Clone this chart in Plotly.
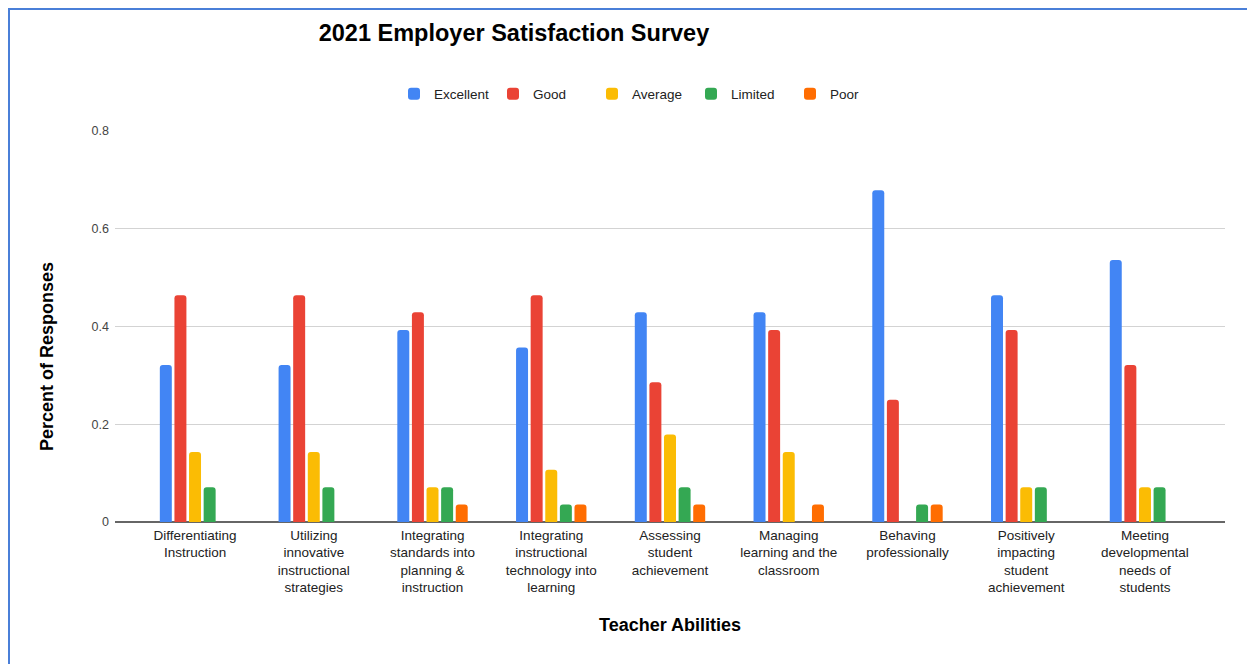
import plotly.graph_objects as go

categories = [
    "Differentiating<br>Instruction",
    "Utilizing<br>innovative<br>instructional<br>strategies",
    "Integrating<br>standards into<br>planning &<br>instruction",
    "Integrating<br>instructional<br>technology into<br>learning",
    "Assessing<br>student<br>achievement",
    "Managing<br>learning and the<br>classroom",
    "Behaving<br>professionally",
    "Positively<br>impacting<br>student<br>achievement",
    "Meeting<br>developmental<br>needs of<br>students",
]

excellent = [0.321, 0.321, 0.393, 0.357, 0.429, 0.429, 0.679, 0.464, 0.536]
good      = [0.464, 0.464, 0.429, 0.464, 0.286, 0.393, 0.250, 0.393, 0.321]
average   = [0.143, 0.143, 0.071, 0.107, 0.179, 0.143, 0.000, 0.071, 0.071]
limited   = [0.071, 0.071, 0.071, 0.036, 0.071, 0.000, 0.036, 0.071, 0.071]
poor      = [0.000, 0.000, 0.036, 0.036, 0.036, 0.036, 0.036, 0.000, 0.000]

series_names = ["Excellent", "Good", "Average", "Limited", "Poor"]
series_values = [excellent, good, average, limited, poor]
colors = ["#4285F4", "#EA4335", "#FBBC04", "#34A853", "#FF6D01"]

y_ticks = [0, 0.2, 0.4, 0.6, 0.8]
y_tick_labels = ["0", "0.2", "0.4", "0.6", "0.8"]

FONT = "Arial, 'Liberation Sans', sans-serif"

fig = go.Figure()
for name, vals, col in zip(series_names, series_values, colors):
    fig.add_trace(go.Bar(
        name=name, x=categories, y=vals,
        marker=dict(color=col, line=dict(width=0)),
    ))

# page body adds an 8px offset; figure coordinates = screen - 8
OFF = 8
W, H = 1247, 656
L, R, T, B = 107, 30, 123, 142
pw, ph = W - L - R, H - T - B

def px_x(x):
    return (x - OFF - L) / pw

def px_y(y):
    return (H - B - (y - OFF)) / ph

fig.update_layout(
    width=W, height=H,
    margin=dict(l=L, r=R, t=T, b=B),
    paper_bgcolor="white", plot_bgcolor="white",
    font=dict(family=FONT, size=12, color="#222222"),
    barmode="group", bargap=0.385, bargroupgap=0.18,
    barcornerradius=3,
    title=dict(
        text="<b>2021 Employer Satisfaction Survey</b>",
        font=dict(size=23.5, color="#000000", family=FONT),
        x=(514 - OFF) / W, xref="container", xanchor="center",
        y=1 - (33 - OFF) / H, yref="container", yanchor="middle",
    ),
    legend=dict(
        orientation="h", xref="container", yref="container",
        x=(394 - OFF) / W, xanchor="left", y=1 - (94 - OFF) / H, yanchor="middle",
        font=dict(size=13.5, color="#222222"),
        entrywidth=54, entrywidthmode="pixels",
        itemclick=False, traceorder="normal",
    ),
    xaxis=dict(
        type="category",
        range=[-0.674, 8.674],
        showgrid=False, showline=False, ticks="",
        tickfont=dict(size=13.5, color="#222222"),
        tickangle=0, ticklabelstandoff=3,
    ),
    yaxis=dict(
        range=[0, 0.8],
        tickvals=y_ticks, ticktext=y_tick_labels,
        showgrid=True, gridcolor="#d3d3d3", gridwidth=1,
        zeroline=True, zerolinecolor="#666666", zerolinewidth=2,
        showline=False, ticks="",
        tickfont=dict(size=12.5, color="#444444"),
        ticklabelstandoff=5,
    ),
    annotations=[
        dict(text="<b>Percent of Responses</b>", xref="paper", yref="paper",
             x=px_x(47), y=px_y(357), textangle=-90, showarrow=False,
             font=dict(size=18, color="#000000", family=FONT),
             xanchor="center", yanchor="middle"),
        dict(text="<b>Teacher Abilities</b>", xref="paper", yref="paper",
             x=px_x(670), y=px_y(625), showarrow=False,
             font=dict(size=18, color="#000000", family=FONT),
             xanchor="center", yanchor="middle"),
    ],
    shapes=[
        dict(type="line", xref="paper", yref="paper",
             x0=px_x(9), x1=px_x(9), y0=px_y(9), y1=px_y(720),
             line=dict(color="#4a7fd8", width=2)),
        dict(type="line", xref="paper", yref="paper",
             x0=px_x(8), x1=px_x(1300), y0=px_y(9), y1=px_y(9),
             line=dict(color="#4a7fd8", width=2)),
    ],
)

fig.write_html("out.html")
